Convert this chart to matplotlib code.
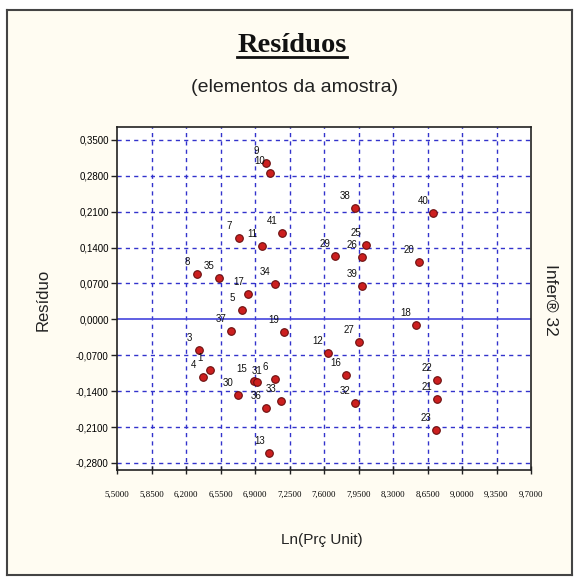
import matplotlib
matplotlib.use("Agg")
import matplotlib.pyplot as plt
from matplotlib.lines import Line2D

labels = [1, 3, 4, 5, 6, 7, 8, 9, 10, 11, 12, 13, 15, 16, 17, 18, 19, 20, 21, 22, 23,
          25, 26, 27, 29, 30, 31, 32, 33, 34, 35, 36, 37, 38, 39, 40, 41]
ln_prc = [6.447, 6.336, 6.376, 6.770, 7.104, 6.740, 6.315, 7.013, 7.054, 6.973, 7.640,
          7.044, 6.892, 7.822, 6.831, 8.531, 7.195, 8.561, 8.743, 8.743, 8.733,
          8.025, 7.984, 7.954, 7.711, 6.730, 6.922, 7.914, 7.165, 7.104, 6.538,
          7.013, 6.659, 7.914, 7.984, 8.703, 7.175]
residuo = [-0.099, -0.060, -0.112, 0.018, -0.116, 0.159, 0.089, 0.305, 0.286, 0.143, -0.065,
           -0.260, -0.120, -0.108, 0.050, -0.011, -0.024, 0.112, -0.155, -0.118, -0.216,
           0.145, 0.122, -0.044, 0.124, -0.147, -0.122, -0.163, -0.159, 0.069, 0.081,
           -0.173, -0.023, 0.217, 0.065, 0.208, 0.169]

xticks = [5.50, 5.85, 6.20, 6.55, 6.90, 7.25, 7.60, 7.95, 8.30, 8.65, 9.00, 9.35, 9.70]
yticks = [-0.28, -0.21, -0.14, -0.07, 0.0, 0.07, 0.14, 0.21, 0.28, 0.35]

W, H = 579, 585
fig = plt.figure(figsize=(W / 100, H / 100), dpi=100)
fig.patch.set_facecolor("white")

# outer panel as a background axes
bg = fig.add_axes([7 / W, 1 - 575 / H, (572 - 7) / W, (575 - 10) / H], zorder=0)
bg.set_facecolor("#FFFCF2")
bg.set_xticks([])
bg.set_yticks([])
for sp in bg.spines.values():
    sp.set_color("#444444")
    sp.set_linewidth(1.5)

ax = fig.add_axes([117 / W, 1 - 470 / H, (531 - 117) / W, (470 - 127) / H], zorder=1)
ax.set_facecolor("white")
ax.set_xlim(5.5, 9.7)
ax.set_ylim(-0.2937, 0.375)

grid_col = "#3333CC"
for xv in xticks[1:-1]:
    ax.axvline(xv, color=grid_col, lw=1.0, ls=(0, (3, 3)), zorder=1)
for yv in yticks:
    if yv == 0:
        ax.axhline(0, color="#4444DD", lw=1.2, ls="-", zorder=1)
    else:
        ax.axhline(yv, color=grid_col, lw=1.0, ls=(0, (3, 3)), zorder=1)

ax.scatter(ln_prc, residuo, s=30, c="#CC1F1F", edgecolors="#6A0F0F",
           linewidths=0.8, zorder=3)
offsets = {15: (-13, 12), 31: (0, 11)}
for lab, xv, yv in zip(labels, ln_prc, residuo):
    off = offsets.get(lab, (-10, 12))
    ax.annotate(str(lab), (xv, yv), xytext=off, textcoords="offset pixels",
                ha="center", va="center", fontsize=7, color="#111111",
                family="Liberation Sans", zorder=4)

ax.set_xticks(xticks)
ax.set_xticklabels([f"{v:.4f}".replace(".", ",") for v in xticks],
                   fontsize=6.3, family="Liberation Serif")
ax.set_yticks(yticks)
ax.set_yticklabels([f"{v:.4f}".replace(".", ",") for v in yticks],
                   fontsize=7, family="Liberation Sans")
ax.tick_params(axis="x", direction="inout", length=6, width=1, color="#222222", pad=12)
ax.tick_params(axis="y", direction="out", length=4, width=1, color="#222222", pad=2)
for sp in ax.spines.values():
    sp.set_color("#222222")
    sp.set_linewidth(1.2)

# texts
title = fig.text(292 / W, 1 - 46 / H, "Resíduos",
                 ha="center", va="center", fontsize=20.5, fontweight="bold",
                 family="Liberation Serif", color="#111111", zorder=5)
fig.text(295 / W, 1 - 88 / H, "(elementos da amostra)", ha="center", va="center",
         fontsize=14, family="Liberation Sans", color="#222222", zorder=5)
fig.text(43 / W, 1 - 300 / H, "Resíduo", ha="center", va="center", rotation=90,
         fontsize=12, family="Liberation Sans", color="#222222", zorder=5)
fig.text(551 / W, 1 - 300 / H, "Infer® 32", ha="center", va="center", rotation=270,
         fontsize=12.5, family="Liberation Sans", color="#222222", zorder=5)
fig.text(322 / W, 1 - 540 / H, "Ln(Prç Unit)", ha="center", va="center",
         fontsize=11, family="Liberation Sans", color="#222222", zorder=5)

# underline for title
fig.canvas.draw()
bb = title.get_window_extent(renderer=fig.canvas.get_renderer())
inv = fig.transFigure.inverted()
(x0, y0), (x1, y1) = inv.transform([(bb.x0, bb.y0), (bb.x1, bb.y1)])
yl = y0 + 1.5 / H
fig.add_artist(Line2D([x0, x1], [yl, yl], transform=fig.transFigure,
                      color="#111111", lw=2.0, zorder=5))

fig.savefig("out.png", dpi=100, facecolor=fig.get_facecolor())
